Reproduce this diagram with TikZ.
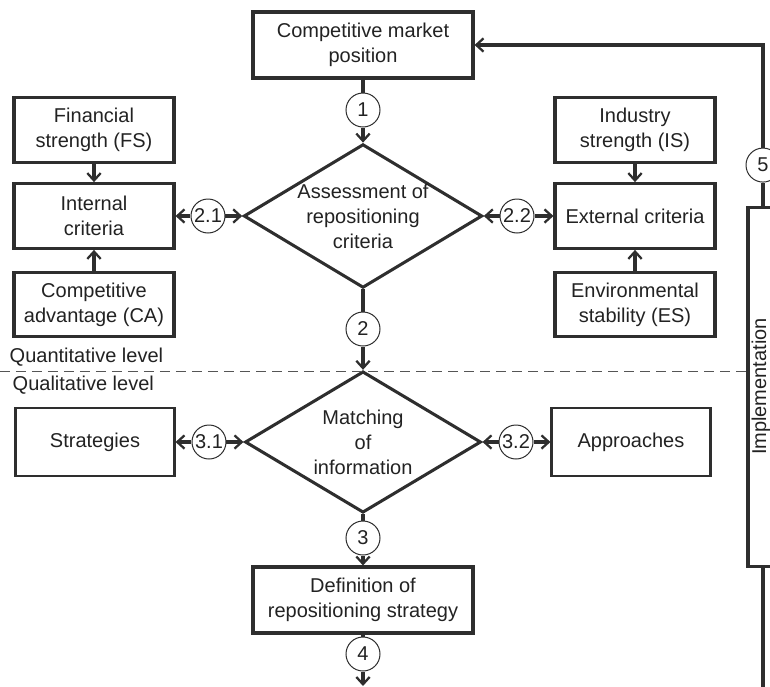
\documentclass[tikz,border=0pt]{standalone}
\usepackage{fontspec}
\setmainfont{Liberation Sans}
\usetikzlibrary{shapes.geometric,arrows.meta}
\definecolor{ink}{HTML}{2E2E2E}
\definecolor{inktext}{HTML}{222222}
\definecolor{levelline}{HTML}{555555}

\begin{document}
\begin{tikzpicture}[
color=ink,
text=inktext,
font=\fontsize{15}{18.75}\selectfont,
node distance={50pt},
>={Straight Barb[length=5.5pt,width=10pt,line width=1.7pt]},
stepbox/.style={rectangle, draw, line width=2.3pt, minimum width=165pt, minimum height=49.5pt, align=center},
critbox/.style={rectangle, draw, line width=2.3pt, minimum width=120pt, minimum height=48.5pt, align=center},
choicebox/.style={rectangle, draw, line width=1.8pt, minimum width=119pt, minimum height=51pt, align=center},
decision/.style={diamond, draw, line width=2.3pt, aspect=1.66, minimum width=177pt, minimum height=106pt, inner sep=0pt, align=center},
numcirc/.style={circle, draw, line width=0.75pt, fill=white, minimum size=25.5pt, inner sep=0pt},
implbox/.style={rectangle, draw, line width=2.3pt, rotate=90, minimum width=269.25pt, minimum height=22.5pt, inner sep=0pt, text height=10.5pt, text depth=6pt},
link/.style={line width=2.3pt}
]
\useasboundingbox (-272.25pt,162pt) rectangle (305.25pt,-352.5pt);

\node[decision] (assess) {Assessment of\\repositioning\\criteria};
\node[numcirc] (c1) [above of=assess, node distance=79.5pt] {1};
\node[stepbox] (market) [above of=c1, node distance=48.75pt] {Competitive market\\position};
\node[numcirc] (c2) [below of=assess, node distance=84.75pt] {2};
\node[decision] (match) [below of=c2, node distance=84.75pt] {Matching\\of\\information};
\node[numcirc] (c3) [below of=match, node distance=72pt] {3};
\node[stepbox] (define) [below of=c3, node distance=46.5pt] {Definition of\\repositioning strategy};
\node[numcirc] (c4) [below of=define, node distance=40.5pt] {4};
\coordinate[below of=c4, node distance=24pt] (out);

\node[numcirc] (c21) [left of=assess, node distance=116.25pt] {2.1};
\node[critbox] (internal) [left of=c21, node distance=85.5pt] {Internal\\criteria};
\node[critbox] (fs) [above of=internal, node distance=64.5pt] {Financial\\strength (FS)};
\node[critbox] (ca) [below of=internal, node distance=66.4pt] {Competitive\\advantage (CA)};

\node[numcirc] (c22) [right of=assess, node distance=115.5pt] {2.2};
\node[critbox] (external) [right of=c22, node distance=88.5pt] {External criteria};
\node[critbox] (is) [above of=external, node distance=64.5pt] {Industry\\strength (IS)};
\node[critbox] (es) [below of=external, node distance=66.4pt] {Environmental\\stability (ES)};

\node[numcirc] (c31) [left of=match, node distance=115.5pt] {3.1};
\node[choicebox] (strat) [left of=c31, node distance=85.5pt] {Strategies};
\node[numcirc] (c32) [right of=match, node distance=114.75pt] {3.2};
\node[choicebox] (appr) [right of=c32, node distance=86.25pt] {Approaches};

\node[implbox] (impl) at (300pt,-127.9pt) {Implementation};
\node[numcirc] (c5) [above of=impl, node distance=166.1pt] {5};
\coordinate[below of=impl, node distance=226pt] (back);

\node[anchor=west] (quant) at (-268.5pt,-105.75pt) {Quantitative level};
\node[anchor=west] (qual) at (-266.25pt,-126.75pt) {Qualitative level};
\coordinate (lvlL) at (-272.25pt,-116.25pt);
\coordinate (lvlR) at (288.75pt,-116.25pt);
\draw[levelline, line width=0.75pt, dash pattern=on 7.5pt off 4.5pt] (lvlL) -- (lvlR);

\draw[link] (market) -- (c1);
\draw[link,->] (c1) -- (assess);
\draw[link] (assess) -- (c2);
\draw[link,->] (c2) -- (match);
\draw[link] (match) -- (c3);
\draw[link,->] (c3) -- (define);
\draw[link] (define) -- (c4);
\draw[link,->] (c4) -- (out);

\draw[link,->] (fs) -- (internal);
\draw[link,->] (ca) -- (internal);
\draw[link,->] (c21) -- (internal);
\draw[link,->] (c21) -- (assess);

\draw[link,->] (is) -- (external);
\draw[link,->] (es) -- (external);
\draw[link,->] (c22) -- (external);
\draw[link,->] (c22) -- (assess);

\draw[link,->] (c31) -- (strat);
\draw[link,->] (c31) -- (match);
\draw[link,->] (c32) -- (appr);
\draw[link,->] (c32) -- (match);

\draw[link] (back) -- (impl);
\draw[link] (impl) -- (c5);
\draw[link,->] (c5) |- (market);
\end{tikzpicture}
\end{document}
